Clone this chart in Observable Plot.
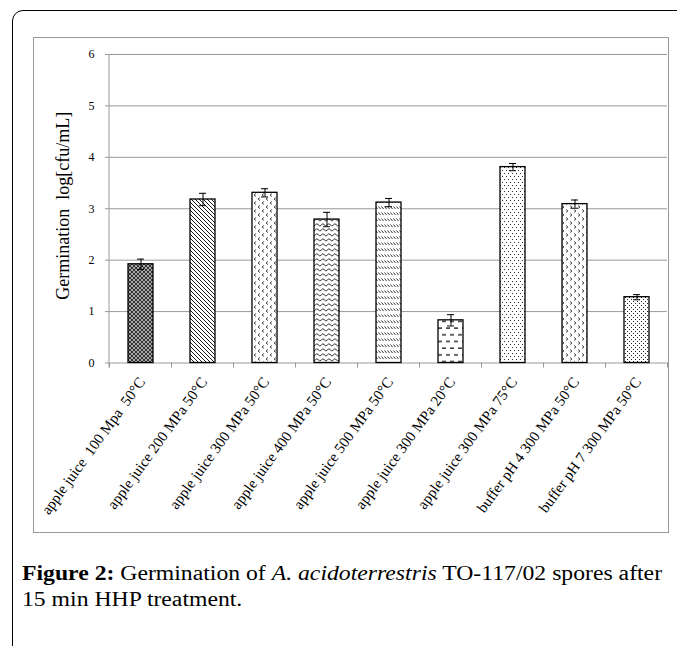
<!DOCTYPE html>
<html>
<head>
<meta charset="utf-8">
<script src="https://cdn.jsdelivr.net/npm/d3@7"></script>
<script src="https://cdn.jsdelivr.net/npm/@observablehq/plot@0.6"></script>
<style>
  body { margin: 0; background: #fff; }
  #page { position: relative; width: 677px; height: 646px; overflow: hidden; background: #fff; }
  #outer { position: absolute; left: 12px; top: 10px; width: 720px; height: 720px; border: 1.5px solid #000; border-radius: 11px; }
  #frame { position: absolute; left: 33px; top: 37px; width: 634px; height: 494px; border: 1px solid #999; }
  #chart { position: absolute; left: 33px; top: 37px; }
  #caption { position: absolute; left: 22px; top: 560px; width: 560px; font-family: "Liberation Serif", serif; font-size: 20px; line-height: 26px; color: #000; white-space: nowrap; transform: scaleX(1.185); transform-origin: 0 0; }
</style>
</head>
<body>
<div id="page">
  <div id="outer"></div>
  <div id="frame"></div>
  <div id="chart"></div>
  <div id="caption"><b>Figure 2:</b> Germination of <i>A. acidoterrestris</i> TO-117/02 spores after<br>15 min HHP treatment.</div>
</div>
<script>
const categories = [
  "apple juice\u00a0 100 Mpa\u00a0 50°C",
  "apple juice 200 MPa 50°C",
  "apple juice 300 MPa 50°C",
  "apple juice 400 MPa 50°C",
  "apple juice 500 MPa 50°C",
  "apple juice 300 MPa 20°C",
  "apple juice 300 MPa 75°C",
  "buffer pH 4 300 MPa 50°C",
  "buffer pH 7 300 MPa 50°C"
];
const values = [1.92, 3.18, 3.31, 2.79, 3.12, 0.83, 3.81, 3.09, 1.28];
const errors = [0.10, 0.12, 0.08, 0.14, 0.08, 0.11, 0.07, 0.08, 0.05];
const yTicks = [0, 1, 2, 3, 4, 5, 6];
const yTitle = "Germination\u00a0 log[cfu/mL]";

const data = categories.map((c, i) => ({category: c, value: values[i], error: errors[i], pattern: `url(#pat${i})`}));

const NS = "http://www.w3.org/2000/svg";
function el(name, attrs) {
  const e = document.createElementNS(NS, name);
  for (const k in attrs) e.setAttribute(k, attrs[k]);
  return e;
}

// category boundary ticks and y axis line, drawn from the plot's scales
function axisDecor(index, scales, values, dims) {
  const x = scales.x, y = scales.y;
  const bw = typeof x.bandwidth === "function" ? x.bandwidth() : x.bandwidth;
  const step = typeof x.step === "function" ? x.step() : x.step;
  const y0 = y(0);
  const g = el("g", {stroke: "#999", "stroke-width": 1});
  for (let i = 0; i <= categories.length; i++) {
    const xi = i < categories.length
      ? x(categories[i]) - (step - bw) / 2
      : x(categories[i - 1]) + bw + (step - bw) / 2;
    g.appendChild(el("line", {x1: xi, x2: xi, y1: y0, y2: y0 + 5}));
  }
  const xl = dims.marginLeft;
  g.appendChild(el("line", {x1: xl, x2: xl, y1: y(6), y2: y0 + 5}));
  return g;
}

const chart = Plot.plot({
  width: 635,
  height: 495,
  marginLeft: 76,
  marginRight: 1,
  marginTop: 17,
  marginBottom: 169.5,
  style: {fontFamily: "Liberation Serif, serif", background: "transparent", overflow: "visible"},
  x: {domain: categories, paddingInner: 0.6, paddingOuter: 0.3, axis: null},
  y: {domain: [0, 6], axis: null},
  color: {type: "identity"},
  marks: [
    Plot.gridY(yTicks, {stroke: "#9a9a9a", strokeOpacity: 1, strokeWidth: 1}),
    Plot.axisY(yTicks, {label: null, tickSize: 4, tickPadding: 11, stroke: "#999", fill: "#000", fontSize: 12, tickFormat: d => String(d)}),
    Plot.text([yTitle], {frameAnchor: "left", textAnchor: "middle", dx: -46, dy: -3, rotate: -90, fontSize: 18, fill: "#000"}),
    Plot.barY(data, {x: "category", y: "value", fill: "pattern", stroke: "#000", strokeWidth: 1.3}),
    Plot.ruleX(data, {x: "category", y1: d => d.value - d.error, y2: d => d.value + d.error, stroke: "#000", strokeWidth: 1}),
    Plot.tickY(data, {x: "category", y: d => d.value + d.error, stroke: "#000", strokeWidth: 1, insetLeft: 9, insetRight: 9}),
    Plot.tickY(data, {x: "category", y: d => d.value - d.error, stroke: "#000", strokeWidth: 1, insetLeft: 9, insetRight: 9}),
    axisDecor,
    Plot.text(categories, {x: d => d, frameAnchor: "bottom", rotate: -54, textAnchor: "end", dx: 5, dy: 19, fontSize: 15, fill: "#000"})
  ]
});

// SVG pattern definitions for the bar fills
const defs = el("defs", {});
function pattern(id, w, h, bg, children) {
  const p = el("pattern", {id, width: w, height: h, patternUnits: "userSpaceOnUse"});
  p.appendChild(el("rect", {x: 0, y: 0, width: w, height: h, fill: bg}));
  for (const [n, a] of children) p.appendChild(el(n, a));
  defs.appendChild(p);
}
// 0: dark checker
pattern("pat0", 4, 4, "#a8a8a8", [
  ["rect", {x: 0, y: 0, width: 2, height: 2, fill: "#333"}],
  ["rect", {x: 2, y: 2, width: 2, height: 2, fill: "#333"}]
]);
// 1: dense backslash diagonals
pattern("pat1", 4, 4, "#fff", [
  ["path", {d: "M-1,-1 L5,5 M-1,3 L1,5 M3,-1 L5,1", stroke: "#000", "stroke-width": 0.9}]
]);
// 2: sparse "<" chevrons
pattern("pat2", 8, 8, "#fff", [
  ["path", {d: "M3,0.5 L1,2 L3,3.5 M7,4.5 L5,6 L7,7.5", stroke: "#222", "stroke-width": 0.8, fill: "none"}]
]);
// 3: wavy horizontal lines
pattern("pat3", 6, 5, "#fff", [
  ["path", {d: "M0,3.5 Q1.5,0.5 3,2.5 T6,3.5", stroke: "#000", "stroke-width": 0.8, fill: "none"}]
]);
// 4: short backslash dashes in rows
pattern("pat4", 3, 6, "#fff", [
  ["path", {d: "M0.5,1.5 L2.5,4", stroke: "#000", "stroke-width": 0.8}]
]);
// 5: staggered horizontal dashes
pattern("pat5", 8, 13.4, "#fff", [
  ["path", {d: "M1,3 H5 M5,9.7 H9 M-3,9.7 H1", stroke: "#000", "stroke-width": 1}]
]);
// 6: sparse small dots
pattern("pat6", 4, 6, "#fff", [
  ["rect", {x: 1, y: 1, width: 1, height: 1, fill: "#333"}],
  ["rect", {x: 3, y: 4, width: 1, height: 1, fill: "#333"}]
]);
// 7: sparse ">" chevrons
pattern("pat7", 8, 8, "#fff", [
  ["path", {d: "M1,0.5 L3,2 L1,3.5 M5,4.5 L7,6 L5,7.5", stroke: "#222", "stroke-width": 0.8, fill: "none"}]
]);
// 8: denser staggered dots
pattern("pat8", 4, 4, "#fff", [
  ["rect", {x: 0, y: 0, width: 1, height: 1, fill: "#222"}],
  ["rect", {x: 2, y: 2, width: 1, height: 1, fill: "#222"}]
]);
chart.insertBefore(defs, chart.firstChild);

document.getElementById("chart").appendChild(chart);
</script>
</body>
</html>
